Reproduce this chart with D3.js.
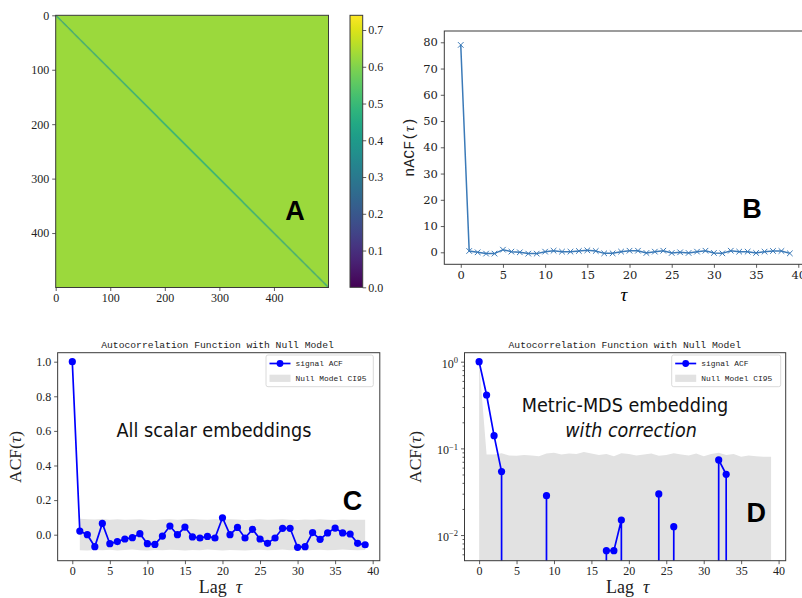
<!DOCTYPE html>
<html><head><meta charset="utf-8">
<script src="https://cdn.jsdelivr.net/npm/d3@7"></script>
<style>
body{margin:0;background:#fff;}
svg{display:block;}
.ax line{stroke:#333;stroke-width:0.8;}
.ax path.domain{display:none;}
</style></head><body>
<svg id="chart" width="802" height="598" xmlns="http://www.w3.org/2000/svg"></svg>
<script>
// ---------------- DATA ----------------
// Panel A: 500x500 distance matrix (uniform off-diagonal, zero diagonal)
const matrixSize = 500;
const offDiagonalValue = 0.63;
const diagonalValue = 0.0;
const colorbarDomain = [0, 0.74];
const heatmapTicks = [0, 100, 200, 300, 400];
const colorbarTicks = [0.0, 0.1, 0.2, 0.3, 0.4, 0.5, 0.6, 0.7];

// Lags shared by B, C, D
const lags = [0,1,2,3,4,5,6,7,8,9,10,11,12,13,14,15,16,17,18,19,20,21,22,23,24,25,26,27,28,29,30,31,32,33,34,35,36,37,38,39];
const lagTicks = [0, 5, 10, 15, 20, 25, 30, 35, 40];

// Panel B: nACF
const nacfB = [79, 0.5, 0, -0.5, -0.5, 1.0, 0.25, 0, -0.5, -0.5, 0.25, 0.6, 0.25, 0.25, 0.5, 0.75, 0.5, -0.4, -0.4, 0.25,
               0.6, 0.6, -0.25, 0.25, 0.6, -0.25, 0, -0.25, 0.25, 0.6, -0.25, -0.4, 0.6, 0.25, 0.25, -0.25, 0.25, 0.5, 0.5, -0.4];
const ticksB = [0, 10, 20, 30, 40, 50, 60, 70, 80];

// Panel C: signal ACF and null model CI95 (lags 1..39)
const acfC = [1.0, 0.021, 0.0, -0.069, 0.065, -0.052, -0.04, -0.025, -0.017, 0.006, -0.052, -0.056, -0.008, 0.05, 0.0, 0.044, -0.013, -0.019, -0.01, -0.019,
              0.098, 0.0, 0.042, -0.019, 0.031, -0.025, -0.05, -0.019, 0.037, 0.037, -0.073, -0.069, 0.012, -0.027, 0.01, 0.038, 0.01, 0.004, -0.05, -0.058];
const nullLagsC = [1,2,3,4,5,6,7,8,9,10,11,12,13,14,15,16,17,18,19,20,21,22,23,24,25,26,27,28,29,30,31,32,33,34,35,36,37,38,39];
const nullUpperC = [0.092,0.09,0.088,0.091,0.087,0.089,0.086,0.088,0.09,0.087,0.085,0.088,0.09,0.087,0.089,0.091,0.088,0.086,0.089,0.087,
                    0.09,0.088,0.085,0.087,0.089,0.086,0.088,0.09,0.087,0.085,0.088,0.086,0.089,0.087,0.085,0.088,0.086,0.087,0.086];
const nullLowerC = [-0.09,-0.092,-0.088,-0.09,-0.087,-0.091,-0.089,-0.086,-0.09,-0.092,-0.088,-0.09,-0.087,-0.089,-0.091,-0.088,-0.09,-0.086,-0.089,-0.091,
                    -0.088,-0.09,-0.092,-0.088,-0.087,-0.09,-0.089,-0.086,-0.09,-0.088,-0.091,-0.089,-0.087,-0.09,-0.088,-0.086,-0.089,-0.09,-0.088];
const ticksC = [0.0, 0.2, 0.4, 0.6, 0.8, 1.0];

// Panel D: signal ACF (0 = non-positive, clipped on log axis) and null CI95
const acfD = [1.0, 0.413, 0.14, 0.054, 0, 0, 0, 0, 0, 0.0285, 0, 0, 0, 0, 0, 0, 0, 0.0066, 0.0066, 0.0149,
              0, 0, 0, 0, 0.0298, 0, 0.0125, 0, 0, 0, 0, 0, 0.0735, 0.0502, 0, 0, 0, 0, 0, 0];
const nullUpperD = [1.0, 0.085, 0.085, 0.088, 0.083, 0.082, 0.084, 0.083, 0.081, 0.087, 0.089, 0.085, 0.087, 0.086, 0.091, 0.087, 0.084, 0.086, 0.081, 0.088,
                    0.086, 0.083, 0.085, 0.087, 0.082, 0.084, 0.088, 0.085, 0.083, 0.087, 0.081, 0.086, 0.089, 0.084, 0.086, 0.08, 0.083, 0.081, 0.08, 0.08];
const nullLowerD = [1.0, -0.09, -0.092, -0.088, -0.09, -0.087, -0.091, -0.089, -0.086, -0.09, -0.092, -0.088, -0.09, -0.087, -0.089, -0.091, -0.088, -0.09, -0.086, -0.089,
                    -0.091, -0.088, -0.09, -0.092, -0.088, -0.087, -0.09, -0.089, -0.086, -0.09, -0.088, -0.091, -0.089, -0.087, -0.09, -0.088, -0.086, -0.089, -0.09, -0.088];
const ticksD = [1, 0.1, 0.01];

const legendLabels = ["signal ACF", "Null Model CI95"];
const titleText = "Autocorrelation Function with Null Model";

// ---------------- DRAWING ----------------
const svg = d3.select("#chart");
const defs = svg.append("defs");
const BLUE = "#0000ff", BAND = "#e2e2e2", FRAME = "#3a3a3a";
const SERIF = "'Liberation Serif', serif";
const viridis = d3.scaleSequential(d3.interpolateViridis).domain(colorbarDomain);

function frame(g, x0, y0, x1, y1) {
  g.append("rect").attr("x", x0).attr("y", y0).attr("width", x1 - x0).attr("height", y1 - y0)
    .attr("fill", "none").attr("stroke", FRAME).attr("stroke-width", 1);
}
function clip(id, x0, y0, x1, y1) {
  defs.append("clipPath").attr("id", id).append("rect")
    .attr("x", x0).attr("y", y0).attr("width", x1 - x0).attr("height", y1 - y0);
}
function styleTicks(g, family, size) {
  g.selectAll("text").style("font-family", family).style("font-size", size + "px").style("fill", "#222");
  return g;
}

// ===== Panel A =====
const xA = d3.scaleLinear().domain([0, matrixSize]).range([55.7, 328.5]);
const yA = d3.scaleLinear().domain([0, matrixSize]).range([15.3, 287.5]);
{
  const cellValue = (i, j) => (i === j ? diagonalValue : offDiagonalValue);
  // area-averaged resampling of the matrix in data space, then colour-mapped
  const W = 273, H = 272;
  const cv = document.createElement("canvas");
  cv.width = W; cv.height = H;
  const ctx = cv.getContext("2d");
  const img = ctx.createImageData(W, H);
  const sx = matrixSize / W, sy = matrixSize / H;
  for (let py = 0; py < H; py++) {
    const ay = py * sy, by = (py + 1) * sy;
    for (let px = 0; px < W; px++) {
      const ax = px * sx, bx = (px + 1) * sx;
      let sum = 0, wsum = 0;
      for (let i = Math.floor(ay); i < Math.ceil(by) && i < matrixSize; i++) {
        const wy = Math.min(by, i + 1) - Math.max(ay, i);
        for (let j = Math.floor(ax); j < Math.ceil(bx) && j < matrixSize; j++) {
          const wx = Math.min(bx, j + 1) - Math.max(ax, j);
          sum += wx * wy * cellValue(i, j); wsum += wx * wy;
        }
      }
      const c = d3.rgb(viridis(sum / wsum));
      const k = (py * W + px) * 4;
      img.data[k] = c.r; img.data[k + 1] = c.g; img.data[k + 2] = c.b; img.data[k + 3] = 255;
    }
  }
  ctx.putImageData(img, 0, 0);
  const gA = svg.append("g");
  gA.append("image").attr("href", cv.toDataURL()).attr("x", xA(0)).attr("y", yA(0))
    .attr("width", xA(matrixSize) - xA(0)).attr("height", yA(matrixSize) - yA(0))
    .attr("preserveAspectRatio", "none");
  frame(gA, xA(0), yA(0), xA(matrixSize), yA(matrixSize));
  styleTicks(svg.append("g").attr("class", "ax").attr("transform", `translate(0,${yA(matrixSize)})`)
    .call(d3.axisBottom(xA).tickValues(heatmapTicks).tickSize(3.5).tickPadding(2.5).tickFormat(d3.format("d"))), SERIF, 12);
  styleTicks(svg.append("g").attr("class", "ax").attr("transform", `translate(${xA(0)},0)`)
    .call(d3.axisLeft(yA).tickValues(heatmapTicks).tickSize(3.5).tickPadding(3).tickFormat(d3.format("d"))), SERIF, 12);
  // colorbar
  const yCB = d3.scaleLinear().domain(colorbarDomain).range([287.3, 15.3]);
  const grad = defs.append("linearGradient").attr("id", "vir").attr("x1", 0).attr("y1", 1).attr("x2", 0).attr("y2", 0);
  d3.range(0, 1.0001, 0.05).forEach(t => grad.append("stop").attr("offset", t).attr("stop-color", d3.interpolateViridis(t)));
  const cbX = 350, cbW = 12.7;
  svg.append("rect").attr("x", cbX).attr("y", yCB(colorbarDomain[1])).attr("width", cbW)
    .attr("height", yCB(colorbarDomain[0]) - yCB(colorbarDomain[1])).attr("fill", "url(#vir)")
    .attr("stroke", FRAME).attr("stroke-width", 1);
  styleTicks(svg.append("g").attr("class", "ax").attr("transform", `translate(${cbX + cbW},0)`)
    .call(d3.axisRight(yCB).tickValues(colorbarTicks).tickSize(3.5).tickPadding(2).tickFormat(d3.format(".1f"))), SERIF, 12);
  svg.append("text").attr("x", 295).attr("y", 210).attr("dy", "0.36em").attr("text-anchor", "middle")
    .style("font-family", "Liberation Sans, Arial, sans-serif").style("font-weight", "bold").style("font-size", "27px").text("A");
}

// ===== Panel B =====
const xB = d3.scaleLinear().domain([-1.95, 40.95]).range([444.3, 806.3]);
const yB = d3.scaleLinear().domain([-4.57, 84.3]).range([264.3, 31]);
{
  const g = svg.append("g");
  clip("clipB", xB.range()[0], yB.range()[1], xB.range()[1], yB.range()[0]);
  const pl = g.append("g").attr("clip-path", "url(#clipB)");
  const col = "#3b7ab8";
  pl.append("path").datum(lags).attr("fill", "none").attr("stroke", col).attr("stroke-width", 1.5)
    .attr("d", d3.line().x(i => xB(lags[i])).y(i => yB(nacfB[i])));
  const s = 2.8;
  pl.selectAll("path.mk").data(lags).join("path").attr("class", "mk").attr("fill", "none")
    .attr("stroke", col).attr("stroke-width", 1)
    .attr("d", i => { const x = xB(lags[i]), y = yB(nacfB[i]); return `M${x - s},${y - s}L${x + s},${y + s}M${x - s},${y + s}L${x + s},${y - s}`; });
  frame(g, xB.range()[0], yB.range()[1], xB.range()[1], yB.range()[0]);
  styleTicks(svg.append("g").attr("class", "ax").attr("transform", `translate(0,${yB.range()[0]})`)
    .call(d3.axisBottom(xB).tickValues(lagTicks).tickSize(3.5).tickPadding(3).tickFormat(d3.format("d"))), "'DejaVu Serif', serif", 11.5);
  styleTicks(svg.append("g").attr("class", "ax").attr("transform", `translate(${xB.range()[0]},0)`)
    .call(d3.axisLeft(yB).tickValues(ticksB).tickSize(3.5).tickPadding(3).tickFormat(d3.format("d"))), "'DejaVu Serif', serif", 11.5);
  svg.append("text").attr("x", 624).attr("y", 301).attr("text-anchor", "middle")
    .style("font-family", SERIF).style("font-style", "italic").style("font-size", "19px").text("τ");
  svg.append("text").attr("transform", "translate(414,147) rotate(-90)").attr("text-anchor", "middle")
    .style("font-family", "Liberation Mono, monospace").style("font-size", "15px").style("fill", "#222")
    .html('nACF(<tspan style="font-family:Liberation Serif,serif;font-style:italic">τ</tspan>)');
  svg.append("text").attr("x", 752).attr("y", 208).attr("dy", "0.36em").attr("text-anchor", "middle")
    .style("font-family", "Liberation Sans, Arial, sans-serif").style("font-weight", "bold").style("font-size", "27px").text("B");
}

// ===== shared helpers for C & D =====
function legend(x0, y0, w) {
  const g = svg.append("g");
  g.append("rect").attr("x", x0).attr("y", y0).attr("width", w).attr("height", 31.7).attr("rx", 2)
    .attr("fill", "#fff").attr("fill-opacity", 0.85).attr("stroke", "#d0d0d0").attr("stroke-width", 0.8);
  const lx0 = x0 + 3.5, lx1 = x0 + 24.5, ly1 = y0 + 8.5, ly2 = y0 + 23.3;
  g.append("line").attr("x1", lx0).attr("x2", lx1).attr("y1", ly1).attr("y2", ly1).attr("stroke", BLUE).attr("stroke-width", 1.7);
  g.append("circle").attr("cx", (lx0 + lx1) / 2).attr("cy", ly1).attr("r", 3.4).attr("fill", BLUE);
  g.append("rect").attr("x", lx0).attr("y", ly2 - 3.6).attr("width", lx1 - lx0).attr("height", 7.2).attr("fill", BAND);
  g.selectAll("text").data(legendLabels).join("text").attr("x", x0 + 29.5)
    .attr("y", (d, i) => i === 0 ? ly1 : ly2).attr("dy", "0.33em")
    .style("font-family", "Liberation Mono, monospace").style("font-size", "7.9px").style("fill", "#222").text(d => d);
}
function titleAndLabels(cx, yLabelX) {
  svg.append("text").attr("x", cx).attr("y", 345).attr("dy", "0.33em").attr("text-anchor", "middle")
    .style("font-family", "Liberation Mono, monospace").style("font-size", "9.7px").style("fill", "#222").text(titleText);
  svg.append("text").attr("x", cx + 3).attr("y", 593).attr("text-anchor", "middle")
    .style("font-family", SERIF).style("font-size", "18px").style("fill", "#222").style("white-space", "pre")
    .html('Lag  <tspan style="font-style:italic">τ</tspan>');
  svg.append("text").attr("transform", `translate(${yLabelX},457) rotate(-90)`).attr("text-anchor", "middle")
    .style("font-family", SERIF).style("font-size", "17.5px").style("fill", "#222")
    .html('ACF(<tspan style="font-style:italic">τ</tspan>)');
}

// ===== Panel C =====
const xC = d3.scaleLinear().domain([-1.95, 40.95]).range([57.65, 379.8]);
const yC = d3.scaleLinear().domain([-0.1503, 1.052]).range([560.7, 352.7]);
{
  const g = svg.append("g");
  clip("clipC", xC.range()[0], yC.range()[1], xC.range()[1], yC.range()[0]);
  const pl = g.append("g").attr("clip-path", "url(#clipC)");
  pl.append("path").datum(nullLagsC.map((l, i) => i))
    .attr("fill", BAND).attr("stroke", "none")
    .attr("d", d3.area().x(i => xC(nullLagsC[i])).y0(i => yC(nullLowerC[i])).y1(i => yC(nullUpperC[i])));
  pl.append("path").datum(lags).attr("fill", "none").attr("stroke", BLUE).attr("stroke-width", 1.7)
    .attr("d", d3.line().x(i => xC(lags[i])).y(i => yC(acfC[i])));
  pl.selectAll("circle").data(lags).join("circle").attr("cx", i => xC(lags[i])).attr("cy", i => yC(acfC[i]))
    .attr("r", 3.6).attr("fill", BLUE);
  frame(g, xC.range()[0], yC.range()[1], xC.range()[1], yC.range()[0]);
  styleTicks(svg.append("g").attr("class", "ax").attr("transform", `translate(0,${yC.range()[0]})`)
    .call(d3.axisBottom(xC).tickValues(lagTicks).tickSize(3.5).tickPadding(2.5).tickFormat(d3.format("d"))), SERIF, 12);
  styleTicks(svg.append("g").attr("class", "ax").attr("transform", `translate(${xC.range()[0]},0)`)
    .call(d3.axisLeft(yC).tickValues(ticksC).tickSize(3.5).tickPadding(3).tickFormat(d3.format(".1f"))), SERIF, 12);
  legend(266, 355, 107.3);
  titleAndLabels(217.5, 21);
  svg.append("text").attr("x", 214).attr("y", 429.5).attr("dy", "0.36em").attr("text-anchor", "middle")
    .attr("textLength", 195).attr("lengthAdjust", "spacingAndGlyphs")
    .style("font-family", "'DejaVu Sans Condensed', 'DejaVu Sans', sans-serif").style("font-size", "20px").style("fill", "#111").text("All scalar embeddings");
  svg.append("text").attr("x", 352.5).attr("y", 500).attr("dy", "0.36em").attr("text-anchor", "middle")
    .style("font-family", "Liberation Sans, Arial, sans-serif").style("font-weight", "bold").style("font-size", "27px").text("C");
}

// ===== Panel D =====
const xD = d3.scaleLinear().domain([-1.95, 40.95]).range([464.5, 785.7]);
const yD = d3.scaleLog().domain([0.00506, 1.27]).range([560.7, 352.7]);
{
  const TINY = 1e-300; // clip non-positive values like matplotlib
  const pos = v => (v > 0 ? v : TINY);
  const g = svg.append("g");
  clip("clipD", xD.range()[0], yD.range()[1], xD.range()[1], yD.range()[0]);
  const pl = g.append("g").attr("clip-path", "url(#clipD)");
  pl.append("path").datum(lags).attr("fill", BAND).attr("stroke", "none")
    .attr("d", d3.area().x(i => xD(lags[i])).y0(i => yD(pos(nullLowerD[i]))).y1(i => yD(pos(nullUpperD[i]))));
  pl.append("path").datum(lags).attr("fill", "none").attr("stroke", BLUE).attr("stroke-width", 1.7)
    .attr("d", d3.line().x(i => xD(lags[i])).y(i => yD(pos(acfD[i]))));
  pl.selectAll("circle").data(lags.filter(i => acfD[i] > 0)).join("circle")
    .attr("cx", i => xD(lags[i])).attr("cy", i => yD(acfD[i])).attr("r", 3.6).attr("fill", BLUE);
  frame(g, xD.range()[0], yD.range()[1], xD.range()[1], yD.range()[0]);
  styleTicks(svg.append("g").attr("class", "ax").attr("transform", `translate(0,${yD.range()[0]})`)
    .call(d3.axisBottom(xD).tickValues(lagTicks).tickSize(3.5).tickPadding(2.5).tickFormat(d3.format("d"))), SERIF, 12);
  // minor ticks
  const minor = yD.ticks(20).filter(v => Math.abs(Math.log10(v) - Math.round(Math.log10(v))) > 1e-6);
  svg.append("g").attr("class", "ax").attr("transform", `translate(${xD.range()[0]},0)`)
    .call(d3.axisLeft(yD).tickValues(minor).tickSize(2).tickFormat(""));
  const ya = svg.append("g").attr("class", "ax").attr("transform", `translate(${xD.range()[0]},0)`)
    .call(d3.axisLeft(yD).tickValues(ticksD).tickSize(3.5).tickPadding(3).tickFormat(""));
  ya.selectAll(".tick").append("text").attr("x", -6.5).attr("dy", "0.45em").attr("text-anchor", "end")
    .style("font-family", SERIF).style("font-size", "12px").style("fill", "#222")
    .html(d => `10<tspan dy="-0.55em" style="font-size:8.5px">${Math.round(Math.log10(d)) === 0 ? "0" : "\u2212" + Math.abs(Math.round(Math.log10(d)))}</tspan>`);
  legend(671.7, 355, 109);
  titleAndLabels(624.8, 421);
  svg.append("text").attr("x", 625).attr("y", 405.5).attr("dy", "0.36em").attr("text-anchor", "middle")
    .attr("textLength", 206.6).attr("lengthAdjust", "spacingAndGlyphs")
    .style("font-family", "'DejaVu Sans Condensed', 'DejaVu Sans', sans-serif").style("font-size", "19px").style("fill", "#111").text("Metric-MDS embedding");
  svg.append("text").attr("x", 631).attr("y", 430.5).attr("dy", "0.36em").attr("text-anchor", "middle")
    .attr("textLength", 131.7).attr("lengthAdjust", "spacingAndGlyphs")
    .style("font-family", "'DejaVu Sans Condensed', 'DejaVu Sans', sans-serif").style("font-style", "italic").style("font-size", "19px").style("fill", "#111").text("with correction");
  svg.append("text").attr("x", 756.3).attr("y", 512.7).attr("dy", "0.36em").attr("text-anchor", "middle")
    .style("font-family", "Liberation Sans, Arial, sans-serif").style("font-weight", "bold").style("font-size", "27px").text("D");
}
</script>
</body></html>
